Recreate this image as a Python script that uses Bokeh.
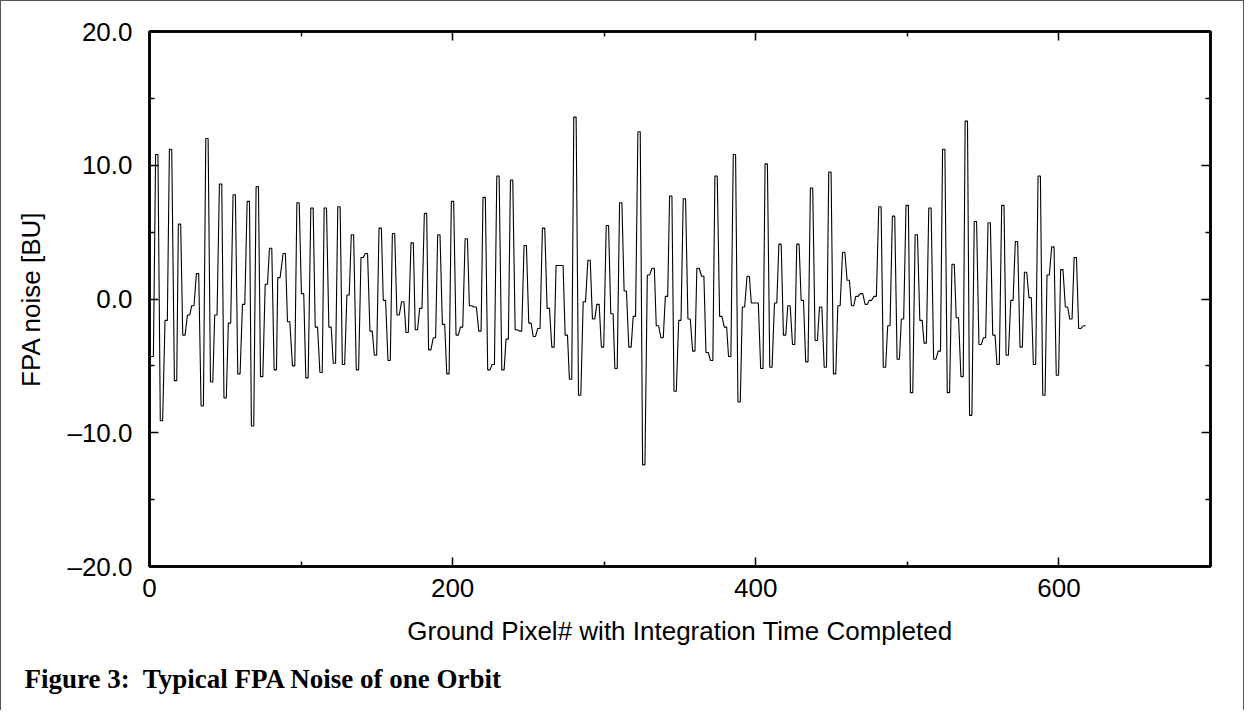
import numpy as np
from bokeh.plotting import figure
from bokeh.models import LinearAxis, FixedTicker, CustomJSTickFormatter, Title, Range1d
from bokeh.embed import file_html
from bokeh.resources import INLINE

# ---- data ----
pixel = [1.8, 4.8, 7.9, 11.0, 13.9, 17.2, 19.8, 22.7, 25.8, 28.6, 31.7, 34.8, 37.9, 41.0, 43.8, 46.9, 49.9, 52.8, 55.9, 59.0,
         62.1, 65.2, 68.0, 71.1, 74.0, 77.1, 79.9, 83.0, 85.4, 88.9, 91.8, 95.1, 98.0, 101.0, 103.9, 107.2, 110.1, 113.2, 116.0, 119.1,
         122.0, 125.0, 128.0, 131.0, 133.9, 137.2, 140.3, 143.1, 146.2, 149.1, 152.2, 155.0, 158.1, 161.0, 164.0, 167.1, 170.0, 173.3, 176.1, 179.0,
         182.1, 184.9, 188.0, 190.9, 194.0, 196.9, 199.9, 203.0, 205.9, 209.0, 211.8, 214.9, 218.0, 220.8, 223.9, 226.8, 229.9, 233.2, 236.0, 238.9,
         242.0, 244.8, 247.9, 251.0, 253.9, 256.9, 260.0, 263.1, 266.2, 269.0, 272.1, 275.0, 277.8, 280.7, 283.8, 286.9, 290.0, 293.0, 295.9, 298.9,
         302.1, 305.1, 307.8, 310.9, 313.9, 317.0, 319.9, 323.0, 326.1, 329.2, 332.3, 335.1, 338.2, 341.1, 343.9, 346.8, 349.9, 352.9, 356.0, 359.1,
         361.9, 365.0, 367.9, 370.9, 373.8, 376.9, 380.0, 382.8, 385.9, 389.0, 391.9, 395.0, 397.8, 400.9, 404.0, 406.9, 410.0, 413.1, 416.0, 419.0,
         421.9, 425.0, 427.8, 430.7, 433.7, 436.8, 439.9, 442.8, 445.9, 448.9, 452.0, 454.9, 458.0, 461.0, 463.9, 466.7, 469.8, 472.9, 475.7, 478.8,
         481.9, 484.9, 487.8, 490.9, 494.0, 496.8, 499.9, 502.8, 505.9, 509.0, 511.8, 514.9, 518.1, 521.1, 524.0, 527.1, 530.2, 533.0, 536.1, 538.9,
         541.8, 544.9, 548.0, 550.9, 554.0, 557.1, 559.9, 563.0, 565.9, 569.0, 572.0, 575.1, 578.0, 581.0, 583.9, 587.0, 590.1, 592.9, 596.0, 599.0,
         601.9, 605.0, 607.9, 610.8, 613.8, 616.9]
noise = [-4.3, 10.8, -9.1, -1.6, 11.2, -6.1, 5.6, -2.7, -1.2, -0.5, 1.9, -8.0, 12.0, -6.2, -1.2, 8.6, -7.4, -1.8, 7.8, -5.6,
         -0.4, 7.3, -9.5, 8.4, -5.8, 1.1, 3.8, -5.3, 1.6, 3.4, -1.7, -5.0, 7.2, 0.4, -5.9, 6.8, -2.1, -5.5, 6.8, -2.1,
         -4.8, 6.9, -4.9, 0.3, 4.8, -5.3, 3.1, 3.4, -2.4, -4.2, 5.3, -0.1, -4.6, 4.9, -1.2, -0.2, -2.5, 4.2, -2.3, -0.7,
         6.4, -3.8, -2.9, 4.8, -1.9, -5.6, 7.3, -2.7, -2.1, 4.5, -0.5, -0.6, -2.4, 7.6, -5.3, -4.9, 9.2, -5.3, -3.0, 8.9,
         -2.3, -2.4, 4.0, -1.8, -2.8, -2.2, 5.3, -0.7, -3.6, 2.5, 2.5, -2.7, -6.0, 13.6, -7.2, -0.2, 2.9, -1.5, -0.4, -3.6,
         5.5, -1.1, -5.2, 7.2, 0.6, -3.6, -1.3, 12.5, -12.4, 1.8, 2.3, -2.0, -2.9, 0.2, 7.7, -6.9, -1.6, 7.5, -1.5, -3.9,
         2.3, 1.7, -4.0, -4.6, 9.2, -1.3, -2.1, -4.3, 10.8, -7.7, -0.6, 1.7, -0.3, -0.3, -5.2, 10.1, -5.1, -0.3, 4.1, -2.7,
         -0.5, -3.4, 4.1, -0.1, -4.7, 8.3, -3.1, -0.6, -5.1, 9.5, -5.6, -0.5, 3.5, 1.4, -0.5, 0.2, 0.4, -0.4, -0.1, 0.2,
         6.9, -5.1, -2.0, 6.2, -4.5, -1.5, 7.0, -7.0, 4.8, -1.6, -3.3, 6.8, -4.5, -3.9, 11.2, -7.0, 2.6, -1.4, -5.8, 13.3,
         -8.7, 5.8, -3.4, -2.9, 5.7, -2.7, -4.9, 7.0, -4.2, -0.1, 4.3, -3.6, 2.0, 0.1, -4.9, 9.2, -7.2, 1.8, 3.9, -5.7,
         2.2, -0.6, -1.5, 3.1, -2.2, -2.0]

x_ticks = [0, 200, 400, 600]
x_minor_ticks = [100, 300, 500, 700]
y_ticks = [-20, -10, 0, 10, 20]
y_minor_ticks = [-15, -5, 5, 15]
x_title = "Ground Pixel# with Integration Time Completed"
y_title = "FPA noise [BU]"
caption = "Figure 3:\u00a0 Typical FPA Noise of one Orbit"

# each sample is held briefly (sample-and-hold look of the original)
hold = 0.77
px = np.asarray(pixel)
xs = np.column_stack([px - hold, px + hold]).ravel()
ys = np.repeat(np.asarray(noise), 2)

p = figure(width=1244, height=710, x_range=Range1d(0, 700), y_range=Range1d(-20, 20),
           output_backend="svg", toolbar_location=None,
           min_border_left=148, min_border_right=35, min_border_top=30, min_border_bottom=145,
           background_fill_color="white", border_fill_color="white")
p.grid.visible = False
p.outline_line_color = "black"
p.outline_line_width = 2.5

p.line(xs, ys, line_color="black", line_width=1.1)

fmt = CustomJSTickFormatter(code="return (tick < 0 ? '\u2013' : '') + Math.abs(tick).toFixed(1);")
blank = CustomJSTickFormatter(code="return '';")

def style_axis(ax, ticks, minor):
    ax.ticker = FixedTicker(ticks=ticks, minor_ticks=minor)
    ax.axis_line_color = "black"
    ax.axis_line_width = 2.5
    ax.major_tick_line_color = "black"
    ax.major_tick_line_width = 1.5
    ax.minor_tick_line_color = "black"
    ax.minor_tick_line_width = 1.5
    ax.major_tick_in = 9
    ax.major_tick_out = 0
    ax.minor_tick_in = 5
    ax.minor_tick_out = 0
    ax.major_label_text_font = "Liberation Sans"
    ax.major_label_text_font_size = "26px"
    ax.major_label_text_color = "black"
    ax.axis_label_text_font = "Liberation Sans"
    ax.axis_label_text_font_size = "26px"
    ax.axis_label_text_font_style = "normal"
    ax.axis_label_text_color = "black"

xa = p.xaxis[0]
style_axis(xa, x_ticks, x_minor_ticks)
xa.axis_label = x_title
xa.major_label_standoff = 12
xa.axis_label_standoff = 16

ya = p.yaxis[0]
style_axis(ya, y_ticks, y_minor_ticks)
ya.formatter = fmt
ya.axis_label = y_title
ya.major_label_standoff = 17
ya.axis_label_standoff = 18

ra = LinearAxis()
style_axis(ra, y_ticks, y_minor_ticks)
ra.formatter = blank
ra.major_label_standoff = 0
p.add_layout(ra, "right")

ta = LinearAxis()
style_axis(ta, x_ticks, x_minor_ticks)
ta.formatter = blank
ta.major_label_standoff = 0
p.add_layout(ta, "above")

cap = Title(text=caption, align="left", offset=-125, standoff=27,
            text_font="Liberation Serif", text_font_style="bold", text_font_size="27px",
            text_color="black")
p.add_layout(cap, "below")

p.styles = {"border-left": "1px solid #555", "border-top": "1px solid #555",
            "border-right": "1px solid #555"}

open("out.html", "w").write(file_html(p, INLINE))
